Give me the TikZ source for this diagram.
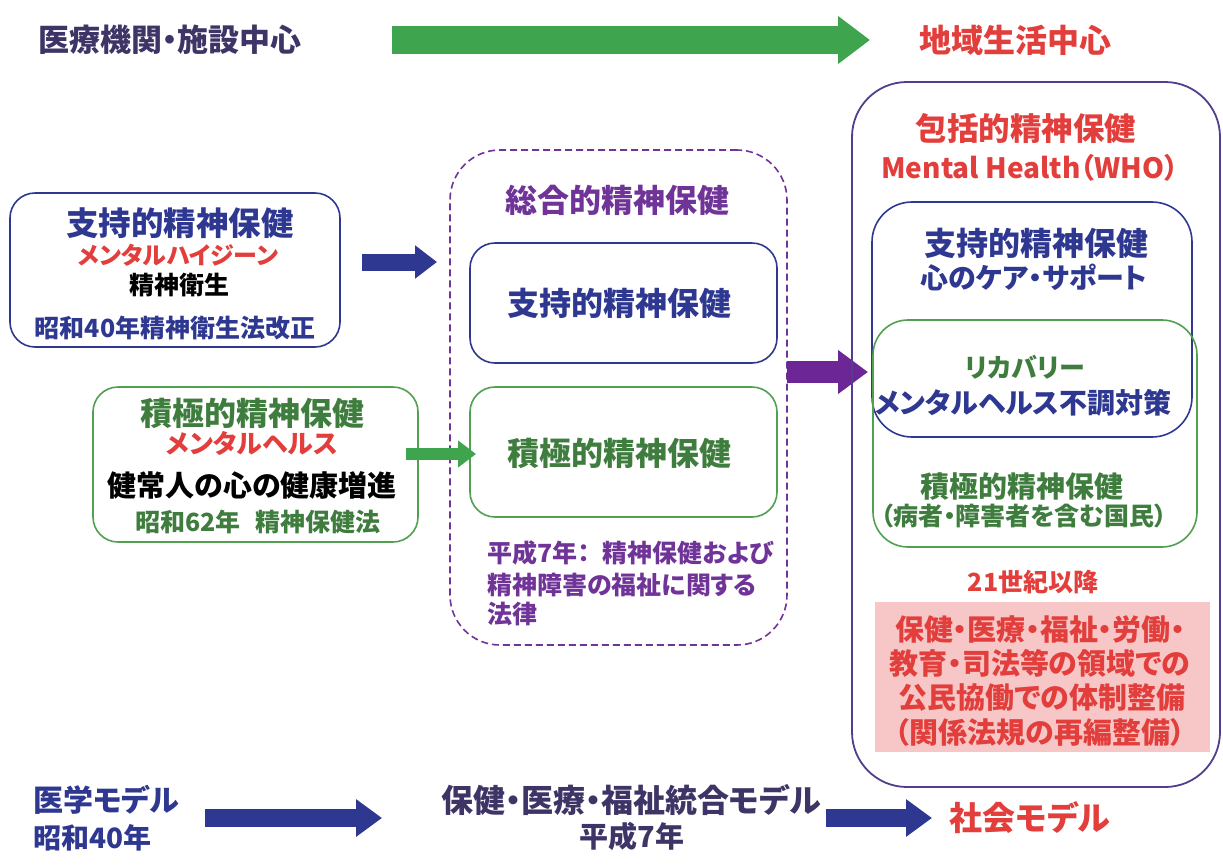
\documentclass[tikz,border=0pt]{standalone}
\usepackage{fontspec}
\setmainfont{Noto Sans CJK JP}[RawFeature=+palt]
\usetikzlibrary{arrows.meta}
\newcommand\fsz[1]{\fontsize{#1}{#1}\selectfont}
\definecolor{navy}{RGB}{46,56,145}
\definecolor{topc}{RGB}{62,52,102}
\definecolor{redc}{RGB}{226,62,60}
\definecolor{greenB}{RGB}{80,160,80}
\definecolor{greenT}{RGB}{62,125,62}
\definecolor{purp}{RGB}{112,52,152}
\definecolor{purpA}{RGB}{108,38,150}
\definecolor{garrow}{RGB}{62,165,78}
\definecolor{bigb}{RGB}{82,62,140}
\definecolor{pinkf}{RGB}{247,198,198}
\begin{document}
\begin{tikzpicture}[x=1pt,y=-1pt,
  txt/.style={inner sep=0pt, font=\bfseries\fsz{#1}},
  rbox/.style={draw, line width=1.6pt, inner sep=0pt},
  blk/.style={line width=#1}]
\useasboundingbox (0,0) rectangle (1223,865);
% top row
\node[txt=31, text=topc] (top1) at (170,40) {医療機関・施設中心};
\node[txt=32, text=redc] (top2) at (1015,40) {地域生活中心};
\coordinate (ga) at (392,40); \coordinate (gb) at (870,40);
\draw[draw=garrow, blk=28pt, -{Triangle[length=32pt,width=46pt]}] (ga) -- (gb);
% left boxes
\node[rbox, draw=navy, minimum width=330pt, minimum height=154pt, rounded corners=25pt] (L1) at (175,270) {};
\node[txt=32.5, text=navy] (l1a) at (180,223) {支持的精神保健};
\node[txt=24, text=redc] (l1b) at (178,255) {メンタルハイジーン};
\node[txt=25, text=black] (l1c) at (179,285) {精神衛生};
\node[txt=25, text=navy] (l1d) at (175,328) {昭和40年精神衛生法改正};
\coordinate (ba) at (362,262); \coordinate (bb) at (437,262);
\draw[draw=navy, blk=17pt, -{Triangle[length=22pt,width=32pt]}] (ba) -- (bb);
\node[rbox, draw=greenB, minimum width=325pt, minimum height=155pt, rounded corners=25pt] (L2) at (255.5,464.5) {};
\node[txt=32, text=greenT] (l2a) at (252,413) {積極的精神保健};
\node[txt=26, text=redc] (l2b) at (252,443) {メンタルヘルス};
\node[txt=29, text=black] (l2c) at (252,485) {健常人の心の健康増進};
\node[txt=25, text=greenT] (l2d) at (258,522) {昭和62年\hspace{0.6em}精神保健法};
% middle dashed box
\node[rbox, draw=purp, dashed, dash pattern=on 7pt off 4pt, minimum width=337pt, minimum height=495pt, rounded corners=50pt] (M) at (618.5,397.5) {};
\node[txt=32, text=purp] (mt) at (617,200) {総合的精神保健};
\node[rbox, draw=navy, minimum width=307pt, minimum height=120pt, rounded corners=25pt] (M1) at (623.5,303) {};
\node[txt=32, text=navy] (m1t) at (619,303) {支持的精神保健};
\node[rbox, draw=greenB, minimum width=307pt, minimum height=130pt, rounded corners=25pt] (M2) at (623.5,452) {};
\node[txt=32, text=greenT] (m2t) at (619,453) {積極的精神保健};
\node[txt=25, text=purp, anchor=west] (n1) at (487,553) {平成7年：\hspace{0.5em}精神保健および};
\node[txt=25, text=purp, anchor=west] (n2) at (487,585) {精神障害の福祉に関する};
\node[txt=25, text=purp, anchor=west] (n3) at (487,614) {法律};
\coordinate (sa) at (406,454); \coordinate (sb) at (476,454);
\draw[draw=garrow, blk=12pt, -{Triangle[length=18pt,width=26pt]}] (sa) -- (sb);
\coordinate (pa) at (787,372); \coordinate (pb) at (868,372);
\draw[draw=purpA, blk=22pt, -{Triangle[length=30pt,width=42pt]}] (pa) -- (pb);
% right big box
\node[rbox, draw=bigb, line width=1.8pt, minimum width=368pt, minimum height=705pt, rounded corners=55pt] (R) at (1036,434.5) {};
\node[txt=31.5, text=redc] (rt1) at (1026,128) {包括的精神保健};
\node[txt=28, text=redc] (rt2) at (1030,168) {Mental Health（WHO）};
\node[rbox, draw=navy, minimum width=320pt, minimum height=235pt, rounded corners=40pt] (R1) at (1032,319.5) {};
\node[rbox, draw=greenB, minimum width=324pt, minimum height=227pt, rounded corners=35pt] (R2) at (1035,433.5) {};
\node[txt=32, text=navy] (r1a) at (1036,243) {支持的精神保健};
\node[txt=28, text=navy] (r1b) at (1034,277) {心のケア・サポート};
\node[txt=26, text=greenT] (r2a) at (1025,367) {リカバリー};
\node[txt=28, text=navy] (r2b) at (1023,403) {メンタルヘルス不調対策};
\node[txt=29, text=greenT] (r2c) at (1022,487) {積極的精神保健};
\node[txt=25, text=greenT] (r2d) at (1024,516) {（病者・障害者を含む国民）};
\node[txt=25, text=redc] (r21) at (1033,582) {21世紀以降};
\node[fill=pinkf, draw=none, inner sep=0pt, minimum width=335pt, minimum height=150pt] (P) at (1042.5,677) {};
\node[txt=29, text=redc] (p1) at (1040,630) {保健・医療・福祉・労働・};
\node[txt=29, text=redc] (p2) at (1040,663) {教育・司法等の領域での};
\node[txt=29, text=redc] (p3) at (1042,698) {公民協働での体制整備};
\node[txt=29, text=redc] (p4) at (1040,732) {（関係法規の再編整備）};
% bottom row
\node[txt=30, text=navy, anchor=west] (b1) at (33,800) {医学モデル};
\node[txt=28, text=navy, anchor=west] (b2) at (33,838) {昭和40年};
\coordinate (xa) at (205,818); \coordinate (xb) at (382,818);
\draw[draw=navy, blk=18pt, -{Triangle[length=26pt,width=36pt]}] (xa) -- (xb);
\node[txt=32, text=topc] (b3) at (631,800) {保健・医療・福祉統合モデル};
\node[txt=29, text=topc] (b4) at (632,836) {平成7年};
\coordinate (ya) at (826,818); \coordinate (yb) at (932,818);
\draw[draw=navy, blk=18pt, -{Triangle[length=26pt,width=36pt]}] (ya) -- (yb);
\node[txt=33, text=redc] (b5) at (1030,818) {社会モデル};
\end{tikzpicture}
\end{document}
